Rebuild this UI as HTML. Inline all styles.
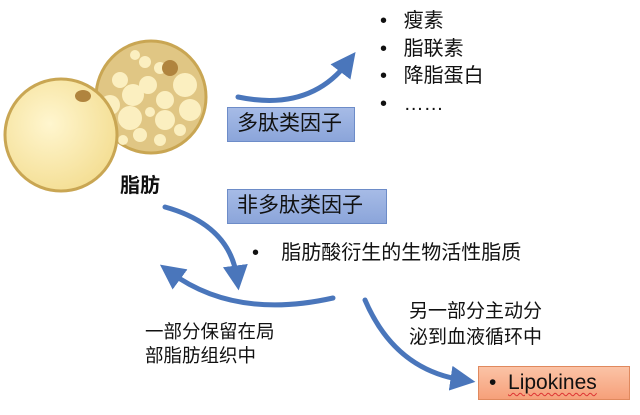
<!DOCTYPE html>
<html><head><meta charset="utf-8"><style>
body{margin:0;width:640px;height:415px;background:#fff;overflow:hidden;position:relative;font-family:"Liberation Sans","Noto Sans CJK SC",sans-serif;color:#111}
.t{position:absolute;white-space:nowrap}
.box{position:absolute;box-sizing:border-box;border:1px solid #6d8cc8;background:linear-gradient(#a6bbe6,#8ba5da);font-size:21px;padding-left:9px;line-height:32px}
</style></head><body>
<svg width="640" height="415" style="position:absolute;left:0;top:0">
<defs>
<radialGradient id="g1" cx="0.4" cy="0.4" r="0.7"><stop offset="0" stop-color="#fff6cf"/><stop offset="1" stop-color="#f3dc8e"/></radialGradient>
<marker id="ah" markerWidth="5" markerHeight="5" refX="2.5" refY="2.5" orient="auto" markerUnits="strokeWidth"><path d="M0,0 L5,2.5 L0,5 z" fill="#4a76bb"/></marker>
</defs>
<ellipse cx="151" cy="97" rx="55" ry="56" fill="#e0c684" stroke="#c9a653" stroke-width="3"/>
<g fill="#fbefc0">
<circle cx="120" cy="80" r="8"/><circle cx="145" cy="62" r="6"/><circle cx="133" cy="95" r="11"/><circle cx="148" cy="85" r="9"/><circle cx="185" cy="85" r="12"/><circle cx="110" cy="105" r="10"/><circle cx="130" cy="118" r="12"/><circle cx="165" cy="100" r="9"/><circle cx="165" cy="120" r="10"/><circle cx="190" cy="110" r="11"/><circle cx="140" cy="135" r="7"/><circle cx="160" cy="140" r="6"/><circle cx="180" cy="130" r="6"/><circle cx="123" cy="140" r="5"/><circle cx="135" cy="55" r="5"/><circle cx="160" cy="68" r="6"/><circle cx="150" cy="112" r="5"/></g>
<circle cx="170" cy="68" r="8" fill="#b0843e"/>
<circle cx="61" cy="135" r="56" fill="url(#g1)" stroke="#c9a653" stroke-width="3"/>
<ellipse cx="83" cy="96" rx="8" ry="6" fill="#b0843e"/>
<g fill="none" stroke="#4a76bb" stroke-width="5" stroke-linecap="round">
<path d="M238,97 Q310,112 348,62" marker-end="url(#ah)"/>
<path d="M165,207 Q230,225 237,278" marker-end="url(#ah)"/>
<path d="M333,298 Q235,320 170,272" marker-end="url(#ah)"/>
<path d="M365,300 Q395,370 463,380" marker-end="url(#ah)"/>
</g>
</svg>
<div class="t" style="left:120px;top:169px;font-size:20px;font-weight:bold">脂肪</div>
<div class="box" style="left:227px;top:107px;width:128px;height:35px">多肽类因子</div>
<div class="box" style="left:227px;top:189px;width:160px;height:35px">非多肽类因子</div>
<div class="t" style="left:380px;top:8px;font-size:20px;line-height:27.5px">•&nbsp;&nbsp;&nbsp;瘦素<br>•&nbsp;&nbsp;&nbsp;脂联素<br>•&nbsp;&nbsp;&nbsp;降脂蛋白<br>•&nbsp;&nbsp;&nbsp;……</div>
<div class="t" style="left:252px;top:236px;font-size:20px">•&nbsp;&nbsp;&nbsp;&nbsp;脂肪酸衍生的生物活性脂质</div>
<div class="t" style="left:145px;top:320px;font-size:18.5px;line-height:24px">一部分保留在局<br>部脂肪组织中</div>
<div class="t" style="left:409px;top:299px;font-size:19px;line-height:26px">另一部分主动分<br>泌到血液循环中</div>
<div style="position:absolute;left:478px;top:366px;width:152px;height:34px;box-sizing:border-box;border:1px solid #e0895e;background:linear-gradient(#fbc3a6,#f6a07a);font-size:21px;line-height:32px;padding-left:10px">•&nbsp;&nbsp;<span style="text-decoration:underline wavy #d33;text-underline-offset:3px;text-decoration-thickness:1px">Lipokines</span></div>
</body></html>
